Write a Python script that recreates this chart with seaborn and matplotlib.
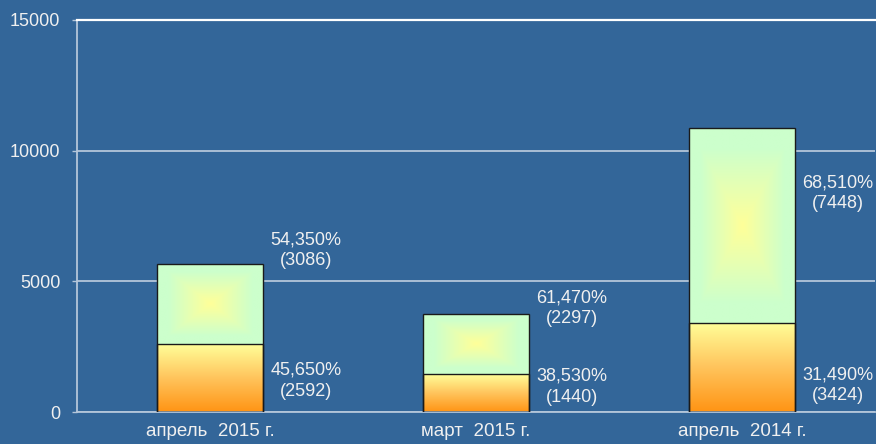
import numpy as np
import pandas as pd
import matplotlib
matplotlib.use("Agg")
import matplotlib.pyplot as plt
import seaborn as sns
from matplotlib.colors import LinearSegmentedColormap

# Chart data
categories = ["апрель  2015 г.", "март  2015 г.", "апрель  2014 г."]
lower_vals = [2592, 1440, 3424]
upper_vals = [3086, 2297, 7448]
lower_pct = ["45,650%", "38,530%", "31,490%"]
upper_pct = ["54,350%", "61,470%", "68,510%"]
y_ticks = [0, 5000, 10000, 15000]

# where the data labels sit (value units)
lower_label_y = [1190, 960, 1030]
upper_label_y = [6200, 3980, 8380]

BG = "#336699"
GRID = "#B4C6DA"
TXT = "#F0F0F0"

sns.set_style("white")
plt.rcParams["font.family"] = ["Liberation Sans", "DejaVu Sans"]

df = pd.DataFrame({
    "cat": categories,
    "lower": lower_vals,
    "total": [a + b for a, b in zip(lower_vals, upper_vals)],
})

fig, ax = plt.subplots(figsize=(8.76, 4.44), dpi=100)
fig.patch.set_facecolor(BG)
ax.set_facecolor(BG)
fig.subplots_adjust(left=77 / 876, right=875 / 876, top=1 - 20 / 444, bottom=1 - 412 / 444)

sns.barplot(data=df, x="cat", y="total", width=0.4, color="w", errorbar=None,
            edgecolor="#1a1a1a", linewidth=1, ax=ax)
sns.barplot(data=df, x="cat", y="lower", width=0.4, color="w", errorbar=None,
            edgecolor="#1a1a1a", linewidth=1, ax=ax)

# gradient fills: rectangular "from centre" on top, vertical on the bottom part
upper_cmap = LinearSegmentedColormap.from_list("up", ["#FFFF99", "#E6FFB3", "#CCFFCC"])
lower_cmap = LinearSegmentedColormap.from_list("low", ["#FF9414", "#FFC45C", "#FFFF99"])

u = np.linspace(-1, 1, 120)
v = np.linspace(-1, 1, 240)
uu, vv = np.meshgrid(u, v)
rect_t = np.clip(np.maximum(np.abs(uu), np.abs(vv)) / 0.8, 0, 1)
vert_t = np.linspace(0, 1, 256)[:, None] * np.ones((1, 10))

patches = list(ax.patches)
n = len(categories)
for i in range(n):
    tot_p = patches[i]
    low_p = patches[n + i]
    x0 = tot_p.get_x()
    x1 = x0 + tot_p.get_width()
    im = ax.imshow(upper_cmap(rect_t), extent=(x0, x1, lower_vals[i], df["total"][i]),
                   origin="lower", aspect="auto", zorder=2, interpolation="bilinear")
    im.set_clip_path(tot_p)
    im2 = ax.imshow(lower_cmap(vert_t), extent=(x0, x1, 0, lower_vals[i]),
                    origin="lower", aspect="auto", zorder=2, interpolation="bilinear")
    im2.set_clip_path(low_p)
for p in patches:
    p.set_facecolor("none")
    p.set_zorder(3)

# data labels
for i in range(n):
    ax.text(i + 0.36, upper_label_y[i], f"{upper_pct[i]}\n({upper_vals[i]})",
            ha="center", va="center", color=TXT, fontsize=13, linespacing=1.3, zorder=4)
    ax.text(i + 0.36, lower_label_y[i], f"{lower_pct[i]}\n({lower_vals[i]})",
            ha="center", va="center", color=TXT, fontsize=13, linespacing=1.3, zorder=4)

ax.set_xlim(-0.5, n - 0.5)
ax.set_ylim(0, 15000)
ax.set_yticks(y_ticks)
ax.set_yticklabels([str(t) for t in y_ticks])
ax.set_xlabel("")
ax.set_ylabel("")

ax.set_axisbelow(True)
ax.yaxis.grid(True, color=GRID, linewidth=1.3)
ax.xaxis.grid(False)

ax.set_xticks(np.arange(-0.5, n), minor=True)
ax.tick_params(axis="x", which="major", length=0, pad=8, labelsize=13.5, labelcolor=TXT)
ax.tick_params(axis="x", which="minor", length=3, width=1, color=GRID, direction="out")
ax.tick_params(axis="y", which="major", length=3.6, width=1, color=GRID, pad=8.5,
               labelsize=13, labelcolor=TXT, direction="out", left=True)

for side in ["left", "bottom"]:
    ax.spines[side].set_color(GRID)
    ax.spines[side].set_linewidth(1.3)
ax.spines["top"].set_color("white")
ax.spines["top"].set_linewidth(1.6)
ax.spines["right"].set_visible(False)

fig.savefig("out.png", dpi=100, facecolor=BG)
